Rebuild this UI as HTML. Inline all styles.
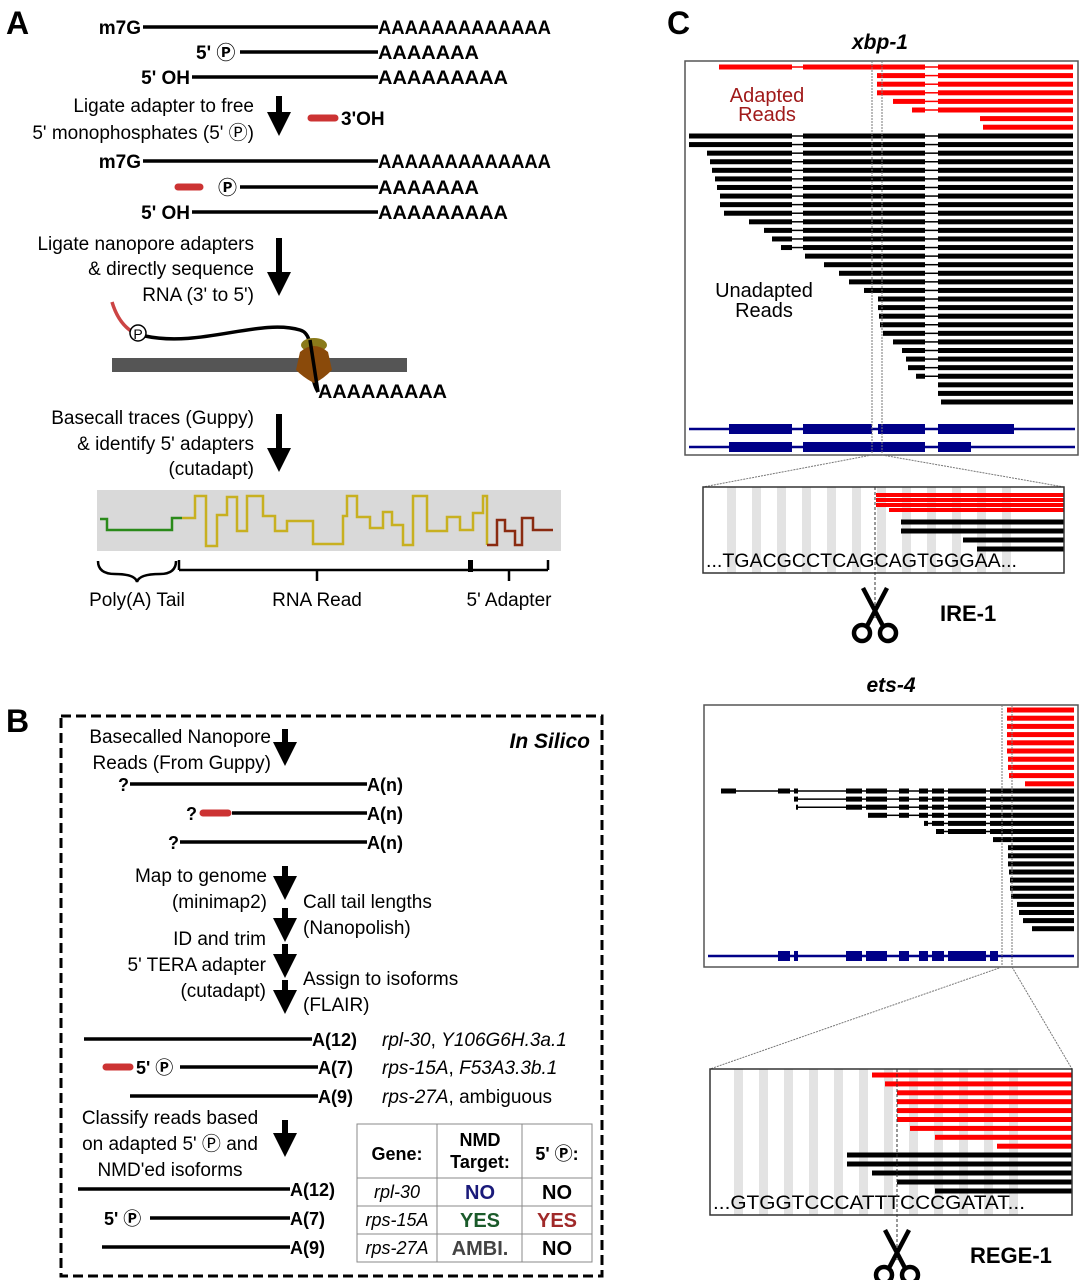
<!DOCTYPE html>
<html><head><meta charset="utf-8">
<style>
body{margin:0;background:#fff;}
svg{display:block;font-family:"Liberation Sans","DejaVu Sans","Noto Sans CJK JP",sans-serif;}
.b{font-weight:bold}
.t{font-size:19px}
.i{font-style:italic}
</style></head>
<body>
<svg id="fig" width="1079" height="1280" viewBox="0 0 1079 1280" xmlns="http://www.w3.org/2000/svg">
<defs>
<marker id="ah" markerWidth="4" markerHeight="4" refX="2" refY="2" orient="auto"><path d="M0,0 L4,2 L0,4 z" fill="#000"/></marker>
</defs>

<!-- PANEL A -->
<g>
<text x="6" y="34" class="b" font-size="32">A</text>
<g class="b" font-size="19">
<text x="141" y="34" text-anchor="end">m7G</text>
<line x1="143" y1="27" x2="378" y2="27" stroke="#000" stroke-width="3.5"/>
<text x="378" y="34" textLength="173" lengthAdjust="spacingAndGlyphs">AAAAAAAAAAAAA</text>
<text x="196" y="59">5' Ⓟ</text>
<line x1="240" y1="52" x2="378" y2="52" stroke="#000" stroke-width="3.5"/>
<text x="378" y="59" textLength="101" lengthAdjust="spacingAndGlyphs">AAAAAAA</text>
<text x="190" y="84" text-anchor="end">5' OH</text>
<line x1="192" y1="77" x2="378" y2="77" stroke="#000" stroke-width="3.5"/>
<text x="378" y="84" textLength="130" lengthAdjust="spacingAndGlyphs">AAAAAAAAA</text>
</g>
<g class="t" text-anchor="end">
<text x="254" y="112">Ligate adapter to free</text>
<text x="254" y="139">5' monophosphates (5' Ⓟ)</text>
</g>
<line x1="279" y1="96" x2="279" y2="124" stroke="#000" stroke-width="6" marker-end="url(#ah)"/>
<line x1="311" y1="118" x2="335" y2="118" stroke="#cc3333" stroke-width="7" stroke-linecap="round"/>
<text x="341" y="125" class="b" font-size="19">3'OH</text>
<g class="b" font-size="19">
<text x="141" y="168" text-anchor="end">m7G</text>
<line x1="143" y1="161" x2="378" y2="161" stroke="#000" stroke-width="3.5"/>
<text x="378" y="168" textLength="173" lengthAdjust="spacingAndGlyphs">AAAAAAAAAAAAA</text>
<line x1="178" y1="187" x2="200" y2="187" stroke="#cc3333" stroke-width="7" stroke-linecap="round"/>
<text x="218" y="194">Ⓟ</text>
<line x1="240" y1="187" x2="378" y2="187" stroke="#000" stroke-width="3.5"/>
<text x="378" y="194" textLength="101" lengthAdjust="spacingAndGlyphs">AAAAAAA</text>
<text x="190" y="219" text-anchor="end">5' OH</text>
<line x1="192" y1="212" x2="378" y2="212" stroke="#000" stroke-width="3.5"/>
<text x="378" y="219" textLength="130" lengthAdjust="spacingAndGlyphs">AAAAAAAAA</text>
</g>
<g class="t" text-anchor="end">
<text x="254" y="250">Ligate nanopore adapters</text>
<text x="254" y="275">&amp; directly sequence</text>
<text x="254" y="301">RNA (3' to 5')</text>
</g>
<line x1="279" y1="238" x2="279" y2="284" stroke="#000" stroke-width="6" marker-end="url(#ah)"/>
<rect x="112" y="358" width="295" height="14" fill="#555"/>
<path d="M112,302 Q118,322 131,331" stroke="#cc4444" stroke-width="3.5" fill="none"/>
<path d="M145,336 C200,348 260,318 300,330 C318,335 305,370 318,392" stroke="#000" stroke-width="3.5" fill="none"/>
<ellipse cx="314" cy="345" rx="13" ry="7" fill="#8a7a1a"/>
<path d="M300,352 Q314,340 328,352 L332,370 Q322,380 314,383 Q304,378 296,370 z" fill="#8a4a0a"/>
<line x1="310" y1="340" x2="318" y2="392" stroke="#000" stroke-width="3.5"/>
<circle cx="138" cy="333" r="8" fill="#fff" stroke="#000" stroke-width="1.5"/>
<text x="138" y="339" text-anchor="middle" font-size="14">P</text>
<text x="318" y="398" class="b" font-size="19" textLength="129" lengthAdjust="spacingAndGlyphs">AAAAAAAAA</text>
<g class="t" text-anchor="end">
<text x="254" y="424">Basecall traces (Guppy)</text>
<text x="254" y="450">&amp; identify 5' adapters</text>
<text x="254" y="475">(cutadapt)</text>
</g>
<line x1="279" y1="414" x2="279" y2="460" stroke="#000" stroke-width="6" marker-end="url(#ah)"/>
<rect x="97" y="490" width="464" height="61" fill="#d9d9d9"/>
<polyline fill="none" stroke="#2a8a1a" stroke-width="2.5" points="100,519 100,519 107,519 107,530 172,530 172,518 182,518"/>
<polyline fill="none" stroke="#c8b020" stroke-width="2.5" points="182,518 195,518 195,496 206,496 206,546 217,546 217,515 227,515 227,497 237,497 237,531 247,531 247,496 263,496 263,516 275,516 275,531 287,531 287,521 313,521 313,544 343,544 343,516 347,516 347,496 357,496 357,517 370,517 370,528 383,528 383,512 392,512 392,525 403,525 403,545 413,545 413,496 427,496 427,531 447,531 447,517 460,517 460,530 473,530 473,513 483,513 483,496 487,496 487,545"/>
<polyline fill="none" stroke="#8a2a10" stroke-width="2.5" points="487,545 497,545 497,520 505,520 505,531 515,531 515,545 522,545 522,518 533,518 533,530 553,530"/>
<path d="M98,561 Q98,574 115,574 Q135,574 137,582 Q139,574 160,574 Q176,574 176,561" fill="none" stroke="#000" stroke-width="2.5"/>
<line x1="179" y1="560" x2="179" y2="570" stroke="#000" stroke-width="2.5"/>
<line x1="179" y1="570" x2="471" y2="570" stroke="#000" stroke-width="2.5"/>
<line x1="317" y1="570" x2="317" y2="581" stroke="#000" stroke-width="2.5"/>
<rect x="468" y="560" width="5" height="12" fill="#000"/>
<line x1="471" y1="570" x2="548" y2="570" stroke="#000" stroke-width="2.5"/>
<line x1="548" y1="560" x2="548" y2="570" stroke="#000" stroke-width="2.5"/>
<line x1="509" y1="570" x2="509" y2="581" stroke="#000" stroke-width="2.5"/>
<g class="t" text-anchor="middle">
<text x="137" y="606">Poly(A) Tail</text>
<text x="317" y="606">RNA Read</text>
<text x="509" y="606">5' Adapter</text>
</g>
</g>

<!-- PANEL B -->
<g>
<text x="6" y="732" class="b" font-size="32">B</text>
<rect x="61" y="716" width="541" height="560" fill="none" stroke="#000" stroke-width="3" stroke-dasharray="10,5"/>
<text x="590" y="748" class="b i" font-size="21" text-anchor="end">In Silico</text>
<g class="t" text-anchor="end">
<text x="271" y="743">Basecalled Nanopore</text>
<text x="271" y="769">Reads (From Guppy)</text>
</g>
<line x1="285" y1="729" x2="285" y2="754" stroke="#000" stroke-width="6" marker-end="url(#ah)"/>
<g class="b" font-size="18">
<text x="118" y="791">?</text><line x1="130" y1="784" x2="367" y2="784" stroke="#000" stroke-width="3.5"/><text x="367" y="791">A(n)</text>
<text x="186" y="820">?</text><line x1="203" y1="813" x2="228" y2="813" stroke="#cc3333" stroke-width="7" stroke-linecap="round"/><line x1="232" y1="813" x2="367" y2="813" stroke="#000" stroke-width="3.5"/><text x="367" y="820">A(n)</text>
<text x="168" y="849">?</text><line x1="180" y1="842" x2="367" y2="842" stroke="#000" stroke-width="3.5"/><text x="367" y="849">A(n)</text>
</g>
<g class="t" text-anchor="end">
<text x="267" y="882">Map to genome</text>
<text x="267" y="908">(minimap2)</text>
<text x="266" y="945">ID and trim</text>
<text x="266" y="971">5' TERA adapter</text>
<text x="266" y="997">(cutadapt)</text>
</g>
<g class="t">
<text x="303" y="908">Call tail lengths</text>
<text x="303" y="934">(Nanopolish)</text>
<text x="303" y="985">Assign to isoforms</text>
<text x="303" y="1011">(FLAIR)</text>
</g>
<line x1="285" y1="866" x2="285" y2="888" stroke="#000" stroke-width="6" marker-end="url(#ah)"/>
<line x1="285" y1="908" x2="285" y2="930" stroke="#000" stroke-width="6" marker-end="url(#ah)"/>
<line x1="285" y1="944" x2="285" y2="966" stroke="#000" stroke-width="6" marker-end="url(#ah)"/>
<line x1="285" y1="980" x2="285" y2="1002" stroke="#000" stroke-width="6" marker-end="url(#ah)"/>
<g class="b" font-size="18">
<line x1="84" y1="1039" x2="312" y2="1039" stroke="#000" stroke-width="3.5"/><text x="312" y="1046">A(12)</text>
<line x1="106" y1="1067" x2="130" y2="1067" stroke="#cc3333" stroke-width="7" stroke-linecap="round"/><text x="136" y="1074">5' Ⓟ</text><line x1="180" y1="1067" x2="318" y2="1067" stroke="#000" stroke-width="3.5"/><text x="318" y="1074">A(7)</text>
<line x1="130" y1="1096" x2="318" y2="1096" stroke="#000" stroke-width="3.5"/><text x="318" y="1103">A(9)</text>
</g>
<g class="t">
<text x="382" y="1046"><tspan class="i">rpl-30</tspan>, <tspan class="i">Y106G6H.3a.1</tspan></text>
<text x="382" y="1074"><tspan class="i">rps-15A</tspan>, <tspan class="i">F53A3.3b.1</tspan></text>
<text x="382" y="1103"><tspan class="i">rps-27A</tspan>, ambiguous</text>
</g>
<g class="t" text-anchor="middle">
<text x="170" y="1124">Classify reads based</text>
<text x="170" y="1150">on adapted 5' Ⓟ and</text>
<text x="170" y="1176">NMD'ed isoforms</text>
</g>
<line x1="285" y1="1120" x2="285" y2="1145" stroke="#000" stroke-width="6" marker-end="url(#ah)"/>
<g class="b" font-size="18">
<line x1="78" y1="1189" x2="290" y2="1189" stroke="#000" stroke-width="3.5"/><text x="290" y="1196">A(12)</text>
<text x="104" y="1225">5' Ⓟ</text><line x1="150" y1="1218" x2="290" y2="1218" stroke="#000" stroke-width="3.5"/><text x="290" y="1225">A(7)</text>
<line x1="102" y1="1247" x2="290" y2="1247" stroke="#000" stroke-width="3.5"/><text x="290" y="1254">A(9)</text>
</g>
<g stroke="#888" stroke-width="1" fill="none">
<rect x="357" y="1124" width="235" height="138"/>
<line x1="437" y1="1124" x2="437" y2="1262"/><line x1="522" y1="1124" x2="522" y2="1262"/>
<line x1="357" y1="1178" x2="592" y2="1178"/><line x1="357" y1="1206" x2="592" y2="1206"/><line x1="357" y1="1234" x2="592" y2="1234"/>
</g>
<g font-size="18" text-anchor="middle">
<text x="397" y="1160" class="b">Gene:</text>
<text x="480" y="1146" class="b">NMD</text><text x="480" y="1168" class="b">Target:</text>
<text x="557" y="1160" class="b">5' Ⓟ:</text>
<text x="397" y="1198" class="i">rpl-30</text>
<text x="397" y="1226" class="i">rps-15A</text>
<text x="397" y="1254" class="i">rps-27A</text>
<text x="480" y="1199" class="b" fill="#1a1a7a" font-size="20">NO</text>
<text x="480" y="1227" class="b" fill="#1a5a2a" font-size="20">YES</text>
<text x="480" y="1255" class="b" fill="#444" font-size="20">AMBI.</text>
<text x="557" y="1199" class="b" font-size="20">NO</text>
<text x="557" y="1227" class="b" fill="#a02a2a" font-size="20">YES</text>
<text x="557" y="1255" class="b" font-size="20">NO</text>
</g>
</g>

<!-- PANEL C -->
<g>
<text x="667" y="34" class="b" font-size="32">C</text>
<text x="880" y="49" class="b i" font-size="21" text-anchor="middle">xbp-1</text>
<text x="891" y="692" class="b i" font-size="21" text-anchor="middle">ets-4</text>
<rect x="685" y="61" width="393" height="394" fill="none" stroke="#555" stroke-width="1.5"/>
<rect x="704" y="705" width="374" height="262" fill="none" stroke="#555" stroke-width="1.5"/>
<g id="reads"></g>
<g fill="#a01a1a" font-size="20" text-anchor="middle"><text x="767" y="102">Adapted</text><text x="767" y="121">Reads</text></g>
<g fill="#000" font-size="20" text-anchor="middle"><text x="764" y="297">Unadapted</text><text x="764" y="317">Reads</text></g>
<g stroke="#777" stroke-width="1" stroke-dasharray="2,1" fill="none">
<line x1="872" y1="61" x2="872" y2="455"/><line x1="882" y1="61" x2="882" y2="455"/>
<line x1="872" y1="455" x2="703" y2="487"/><line x1="882" y1="455" x2="1064" y2="487"/>
<line x1="1002" y1="705" x2="1002" y2="967"/><line x1="1012" y1="705" x2="1012" y2="967"/>
<line x1="1002" y1="967" x2="710" y2="1069"/><line x1="1012" y1="967" x2="1072" y2="1069"/>
</g>
<g id="zooms"></g>
<text x="940" y="621" class="b" font-size="22">IRE-1</text>
<text x="970" y="1263" class="b" font-size="22">REGE-1</text>
</g>
</svg>
<script>
// xbp-1 tracks
const xbpExons = [[689,792],[803,925],[938,1073]];
const xbpRed = [719,877,877,877,893,912,980,983];
const xbpBlack = [689,689,707,710,712,715,717,720,720,724,749,764,772,781,805,824,839,849,864,878,878,879,880,883,893,902,906,908,916,937,937,941];
// ets-4 tracks
const etsExons = [[721,736],[778,790],[794,798],[846,862],[866,887],[899,909],[919,928],[932,944],[948,986],[990,1074]];
const etsRed = [1007,1007,1007,1007,1007,1007,1008,1008,1009,1025];
const etsBlack = [721,794,796,868,924,936,993,1008,1008,1008,1009,1010,1010,1011,1017,1019,1023,1032];
// zoom windows
const xbpZoomRed = [876,876,876,889];
const xbpZoomBlack = [901,901,963,977];
const etsZoomRed = [872,885,897,897,897,897,910,935,997];
const etsZoomBlack = [847,847,872,897,935];

const NS='http://www.w3.org/2000/svg';
const readsG=document.getElementById('reads');
const zoomsG=document.getElementById('zooms');
function mk(tag,attrs,parent){const e=document.createElementNS(NS,tag);for(const k in attrs)e.setAttribute(k,attrs[k]);parent.appendChild(e);return e;}
function drawRead(start,y,exons,color,name){
  const g=mk('g',{},readsG);
  
  
  let prevEnd=null;
  for(const [a,b] of exons){
    if(start>=b) continue;
    const s=Math.max(a,start);
    if(prevEnd!==null) mk('line',{x1:prevEnd,y1:y,x2:s,y2:y,stroke:color,'stroke-width':1.5},g);
    mk('rect',{x:s,y:y-2.5,width:b-s,height:5,fill:color},g);
    prevEnd=b;
  }
}
xbpRed.forEach((s,i)=>drawRead(s,67+i*8.6,xbpExons,'#ff0000','xbp1-adapted-read'));
xbpBlack.forEach((s,i)=>drawRead(s,136+i*8.58,xbpExons,'#000','xbp1-unadapted-read'));
etsRed.forEach((s,i)=>drawRead(s,710+i*8.2,etsExons,'#ff0000','ets4-adapted-read'));
etsBlack.forEach((s,i)=>drawRead(s,791+i*8.1,etsExons,'#000','ets4-unadapted-read'));

function geneModel(y,thick,x1,x2,name){
  const g=mk('g',{},readsG);
  
  
  mk('line',{x1:x1,y1:y,x2:x2,y2:y,stroke:'#000088','stroke-width':2.5},g);
  thick.forEach(([a,b])=>mk('rect',{x:a,y:y-5,width:b-a,height:10,fill:'#000088'},g));
}
geneModel(429,[[729,792],[803,872],[878,925],[938,1014]],689,1075,'xbp1-gene-model-1');
geneModel(447,[[729,792],[803,925],[938,971]],689,1075,'xbp1-gene-model-2');
geneModel(956,[[778,790],[794,798],[846,862],[866,887],[899,909],[919,928],[932,944],[948,986],[990,998]],708,1074,'ets4-gene-model');

function zoomBox(x,y,w,h,seq,cut,red,black,ry,bry,step,name){
  const g=mk('g',{},zoomsG);
  
  
  for(let sx=x+24;sx<x+w-40;sx+=25) mk('rect',{x:sx,y:y,width:9,height:h,fill:'#e3e3e3'},g);
  const bh=Math.min(5,step*0.8);
  red.forEach((s,i)=>mk('rect',{x:s,y:ry+i*step-bh/2,width:x+w-s,height:bh,fill:'#ff0000'},g));
  black.forEach((s,i)=>mk('rect',{x:s,y:bry+i*9-2.5,width:x+w-s,height:5,fill:'#000'},g));
  mk('rect',{x:x,y:y,width:w,height:h,fill:'none',stroke:'#333','stroke-width':1.5},g);
  const t=mk('text',{x:x+3,y:y+h-6,'font-size':19,'font-family':'Liberation Sans, sans-serif',textLength:w-50,lengthAdjust:'spacingAndGlyphs'},g);
  t.textContent=seq;
  mk('line',{x1:cut,y1:y,x2:cut,y2:y+h+45,stroke:'#333','stroke-width':1,'stroke-dasharray':'3,2'},g);
  const sy=y+h+15;
  mk('line',{x1:cut-12,y1:sy,x2:cut+8,y2:sy+38,stroke:'#000','stroke-width':4.5},g);
  mk('line',{x1:cut+12,y1:sy,x2:cut-8,y2:sy+38,stroke:'#000','stroke-width':4.5},g);
  mk('circle',{cx:cut-13,cy:sy+45,r:8,fill:'none',stroke:'#000','stroke-width':4.5},g);
  mk('circle',{cx:cut+13,cy:sy+45,r:8,fill:'none',stroke:'#000','stroke-width':4.5},g);
}
zoomBox(703,487,361,86,'...TGACGCCTCAGCAGTGGGAA...',875,xbpZoomRed,xbpZoomBlack,495,522,5,'ire1-zoom');
zoomBox(710,1069,362,146,'...GTGGTCCCATTTCCCGATAT...',897,etsZoomRed,etsZoomBlack,1075,1155,8.9,'rege1-zoom');
</script>
</body></html>
